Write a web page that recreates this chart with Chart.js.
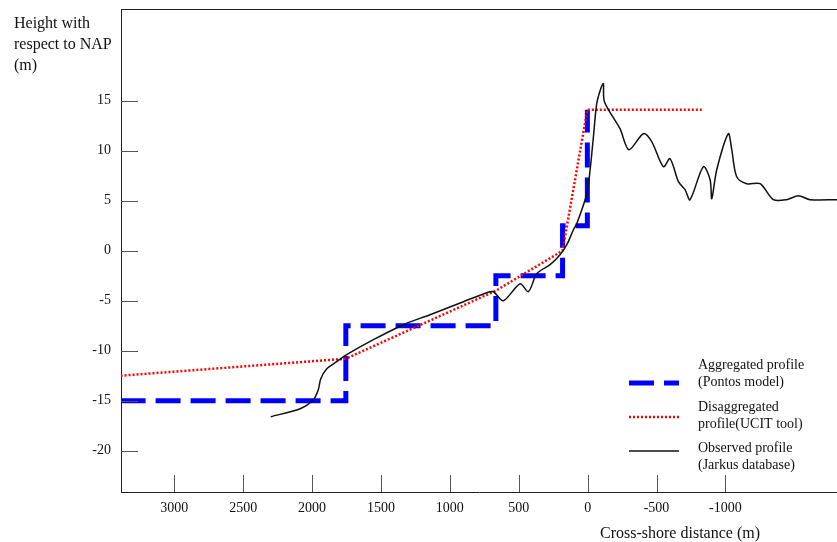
<!DOCTYPE html>
<html>
<head>
<meta charset="utf-8">
<script src="https://cdn.jsdelivr.net/npm/chart.js@4.4.1/dist/chart.umd.min.js"></script>
<style>
html, body { margin: 0; padding: 0; background: #fff; }
#wrap { width: 837px; height: 542px; }
</style>
</head>
<body>
<div id="wrap"><canvas id="profile-chart"></canvas></div>
<script>
const ctx = document.getElementById('profile-chart');

// axis ticks
const xTicks = [3000, 2500, 2000, 1500, 1000, 500, 0, -500, -1000]
const yTicks = [15, 10, 5, 0, -5, -10, -15, -20]

// Aggregated profile (Pontos model) - step line
const aggregatedX = [3390, 1755, 1755, 666, 666, 182, 182, 2, 2]
const aggregatedY = [-15, -15, -7.5, -7.5, -2.5, -2.5, 2.5, 2.5, 14.1]

// Disaggregated profile (UCIT tool)
const disaggregatedX = [3390, 1755, 666, 182, 2, -828]
const disaggregatedY = [-12.5, -10.8, -4.0, 0, 14.1, 14.1]

// Observed profile (Jarkus database)
const observedX = [2300, 2087, 1991, 1955, 1937, 1893, 1821, 1749, 1555, 1337, 1144, 902,
    732, 684, 612, 490, 430, 369, 273, 200, 151, 103, 79, 6, -18, -42, -66, -95, -114, -122,
    -235, -300, -405, -465, -550, -598, -659, -707, -743, -840, -889, -901, -937, -1021,
    -1046, -1082, -1155, -1252, -1348, -1445, -1530, -1615, -1810]
const observedY = [-16.6, -15.8, -14.9, -13.9, -12.8, -11.8, -11.1, -10.4, -8.9, -7.4, -6.4, -5.1,
    -4.2, -4.1, -5.0, -3.3, -4.1, -2.3, -1.4, -0.4, 0.6, 2.1, 2.7, 5.7, 8.1, 11.4, 14.7, 16.2, 16.7, 14.9,
    12.2, 10.1, 11.7, 10.9, 8.4, 9.2, 6.9, 6.1, 5.1, 8.4, 7.1, 5.2, 8.1, 11.7,
    10.1, 7.4, 6.7, 6.7, 5.1, 5.1, 5.5, 5.1, 5.1]

const yTitleLines = ['Height with', 'respect to NAP', '(m)']
const xTitle = 'Cross-shore distance (m)'
const legendLabels = [
    ['Aggregated profile', '(Pontos model)'],
    ['Disaggregated', 'profile(UCIT tool)'],
    ['Observed profile', '(Jarkus database)']
]

const serif = '"Liberation Serif", "Times New Roman", serif'

const toPoints = (xs, ys) => xs.map((x, i) => ({x: x, y: ys[i]}))

/// 枠線・内向きの目盛・タイトル・凡例 \\\
const decorations = {
    id: 'decorations',
    afterDraw(chart) {
        const {ctx, chartArea, scales} = chart
        ctx.save()
        // top frame
        ctx.strokeStyle = '#222'
        ctx.lineWidth = 1
        ctx.beginPath()
        ctx.moveTo(chartArea.left, chartArea.top + 0.5)
        ctx.lineTo(chartArea.right, chartArea.top + 0.5)
        ctx.stroke()
        // ticks pointing inside
        ctx.strokeStyle = '#555'
        xTicks.forEach(v => {
            const px = Math.round(scales.x.getPixelForValue(v)) + 0.5
            ctx.beginPath()
            ctx.moveTo(px, chartArea.bottom)
            ctx.lineTo(px, chartArea.bottom - 17)
            ctx.stroke()
        })
        yTicks.forEach(v => {
            const py = Math.round(scales.y.getPixelForValue(v)) + 0.5
            ctx.beginPath()
            ctx.moveTo(chartArea.left, py)
            ctx.lineTo(chartArea.left + 17, py)
            ctx.stroke()
        })
        // titles
        ctx.fillStyle = '#111'
        ctx.font = '16px ' + serif
        ctx.textBaseline = 'middle'
        ctx.textAlign = 'left'
        yTitleLines.forEach((t, i) => ctx.fillText(t, 14, 24 + i * 21))
        ctx.textAlign = 'center'
        ctx.fillText(xTitle, 680, 534)
        // legend
        const textTops = [365, 407, 448]
        const sampleYs = [383, 417, 451]
        ctx.font = '14px ' + serif
        ctx.textAlign = 'left'
        chart.data.datasets.forEach((ds, i) => {
            ctx.save()
            ctx.strokeStyle = ds.borderColor
            ctx.lineWidth = ds.borderWidth
            ctx.setLineDash(ds.borderDash || [])
            ctx.beginPath()
            ctx.moveTo(629, sampleYs[i])
            ctx.lineTo(679, sampleYs[i])
            ctx.stroke()
            ctx.restore()
            legendLabels[i].forEach((t, j) => ctx.fillText(t, 698, textTops[i] + j * 17))
        })
        ctx.restore()
    }
}

new Chart(ctx, {
    type: 'line',
    data: {
        datasets: [{
            label: 'Aggregated profile (Pontos model)',
            data: toPoints(aggregatedX, aggregatedY),
            borderColor: '#0000ff',
            borderWidth: 5,
            borderDash: [25, 10],
            pointRadius: 0,
            tension: 0,
            fill: false,
            order: 3
        }, {
            label: 'Disaggregated profile(UCIT tool)',
            data: toPoints(disaggregatedX, disaggregatedY),
            borderColor: '#ff0000',
            borderWidth: 2.5,
            borderDash: [2, 2],
            pointRadius: 0,
            tension: 0,
            fill: false,
            order: 2
        }, {
            label: 'Observed profile (Jarkus database)',
            data: toPoints(observedX, observedY),
            borderColor: '#111111',
            borderWidth: 1.5,
            pointRadius: 0,
            tension: 0.3,
            fill: false,
            order: 1
        }]
    },
    options: {
        responsive: true,
        maintainAspectRatio: false,
        animation: false,
        layout: {padding: {top: 9, right: 0, left: 0, bottom: 0}},
        plugins: {
            legend: {display: false},
            tooltip: {enabled: false}
        },
        scales: {
            x: {
                type: 'linear',
                reverse: true,
                min: -1810,
                max: 3387,
                afterBuildTicks: scale => { scale.ticks = xTicks.map(v => ({value: v})) },
                afterFit: scale => { scale.height = 50; scale.paddingLeft = 0; scale.paddingRight = 0 },
                grid: {display: false, drawTicks: false},
                border: {display: true, color: '#222', width: 1},
                ticks: {
                    color: '#111',
                    padding: 8,
                    maxRotation: 0,
                    autoSkip: false,
                    font: {family: serif, size: 14},
                    callback: v => String(v)
                }
            },
            y: {
                type: 'linear',
                min: -24.13,
                max: 24.17,
                afterBuildTicks: scale => { scale.ticks = yTicks.map(v => ({value: v})) },
                afterFit: scale => { scale.width = 121; scale.paddingTop = 0; scale.paddingBottom = 0 },
                grid: {display: false, drawTicks: false},
                border: {display: true, color: '#222', width: 1},
                ticks: {
                    color: '#111',
                    padding: 10,
                    autoSkip: false,
                    font: {family: serif, size: 14},
                    callback: v => String(v)
                }
            }
        }
    },
    plugins: [decorations]
})
</script>
</body>
</html>
